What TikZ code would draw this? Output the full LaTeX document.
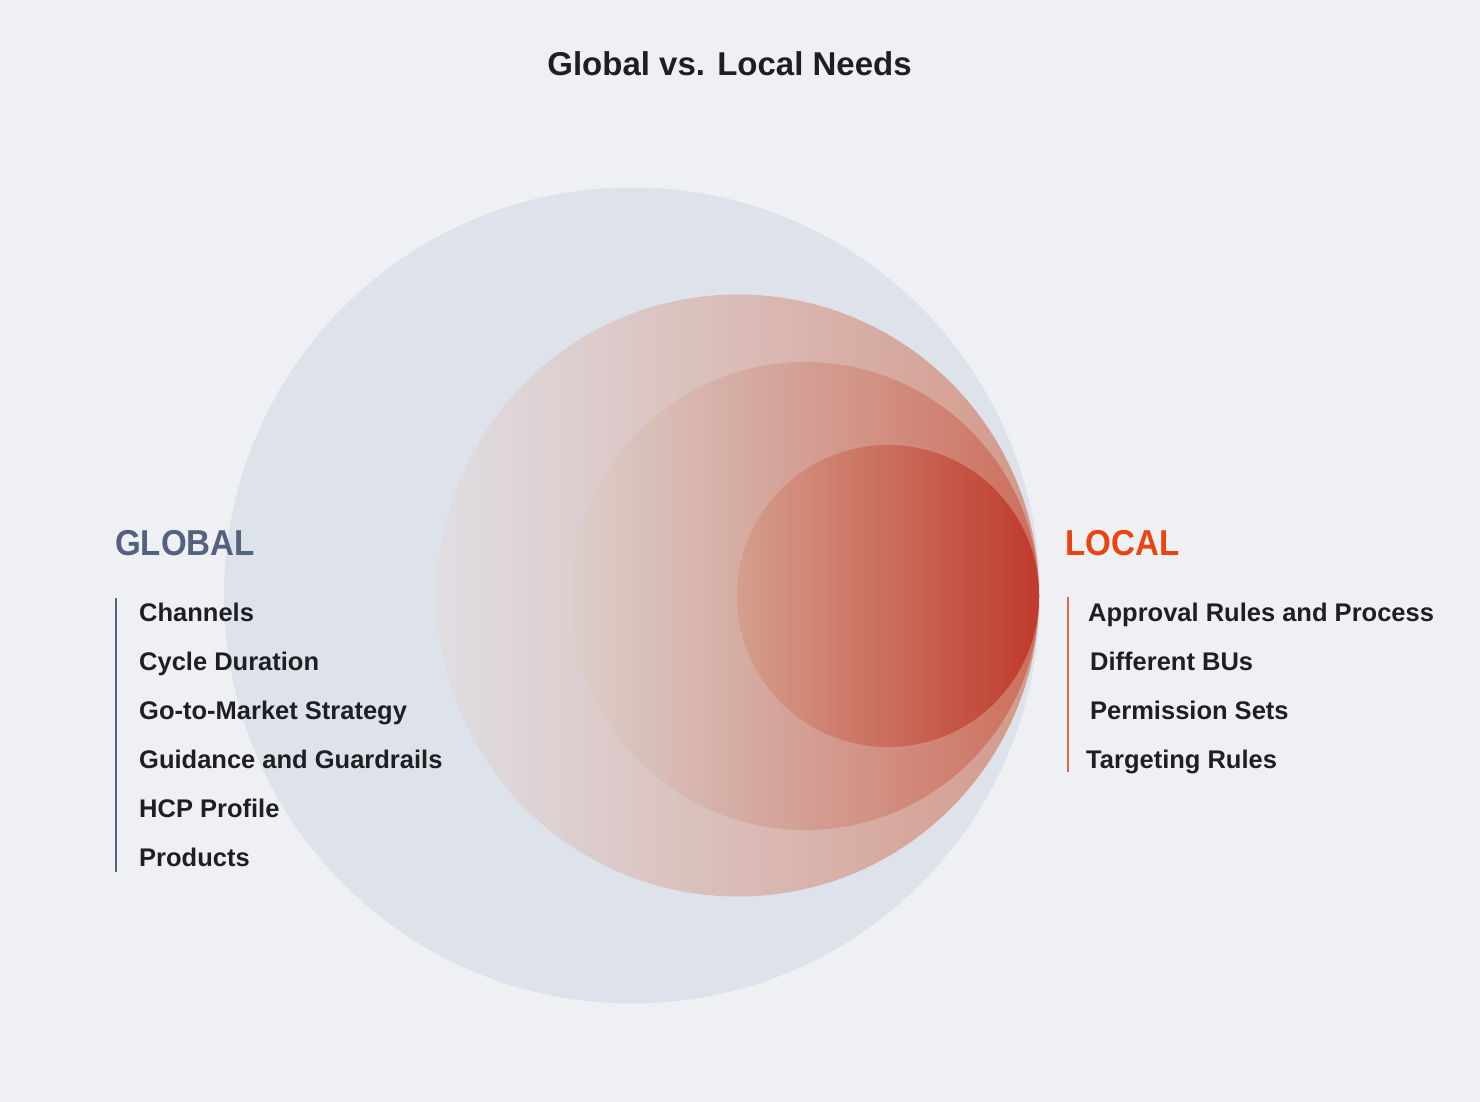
\documentclass[tikz,border=0pt]{standalone}
\usepackage{fontspec}
\setmainfont{Liberation Sans}
\newfontfamily\headfont[FakeStretch=0.92]{Liberation Sans}
\definecolor{bg}{HTML}{EFF0F4}
\definecolor{bigc}{HTML}{DEE2EA}
\definecolor{c2l}{HTML}{DFDEE3}
\definecolor{c2r}{HTML}{D4998A}
\definecolor{c3l}{HTML}{DBCFCB}
\definecolor{c3r}{HTML}{CD6E5C}
\definecolor{c4l}{HTML}{D59F8D}
\definecolor{c4m}{HTML}{C9664F}
\definecolor{c4r}{HTML}{BF3A2B}
\definecolor{txt}{HTML}{1E1F22}
\definecolor{globalc}{HTML}{526280}
\definecolor{localc}{HTML}{EA4410}
\definecolor{localline}{HTML}{DE6A4C}
\tikzset{
  item/.style={anchor=base west, inner sep=0pt, font=\bfseries\fontsize{25.5}{30}\selectfont, text=txt},
  head/.style={anchor=base west, inner sep=0pt, font=\headfont\bfseries\fontsize{36}{40}\selectfont},
  titlestyle/.style={anchor=base, inner sep=0pt, font=\bfseries\fontsize{33}{38}\selectfont, text=txt},
}
\begin{document}
\begin{tikzpicture}[x=1pt,y=-1pt]
\fill[bg] (0,0) rectangle (1480,1102);
\useasboundingbox (0,0) rectangle (1480,1102);
% circles
\fill[bigc] (632,595.5) circle [radius=408pt];
\shade[left color=c2l, right color=c2r] (738,595.5) circle [radius=301pt];
\shade[left color=c3l, right color=c3r] (805,596) circle [radius=234pt];
\shade[left color=c4l, middle color=c4m, right color=c4r] (888,596) circle [radius=151pt];
% title
\node[titlestyle] (title) at (729.5,75.5) {Global vs. Local Needs};
% global
\node[head, text=globalc] (global) at (115,555) {GLOBAL};
\draw[globalc, line width=1.2pt] (116,598) -- (116,872);
\node[item] (g1) at (139,621) {Channels};
\node[item] (g2) at (139,670) {Cycle Duration};
\node[item] (g3) at (139,719) {Go-to-Market Strategy};
\node[item] (g4) at (139,768) {Guidance and Guardrails};
\node[item] (g5) at (139,817) {HCP Profile};
\node[item] (g6) at (139,866) {Products};
% local
\node[head, text=localc] (local) at (1065,555) {LOCAL};
\draw[localline, line width=1.2pt] (1068,597) -- (1068,772);
\node[item] (l1) at (1088,621) {Approval Rules and Process};
\node[item] (l2) at (1090,670) {Different BUs};
\node[item] (l3) at (1090,719) {Permission Sets};
\node[item] (l4) at (1086,768) {Targeting Rules};
\end{tikzpicture}
\end{document}
